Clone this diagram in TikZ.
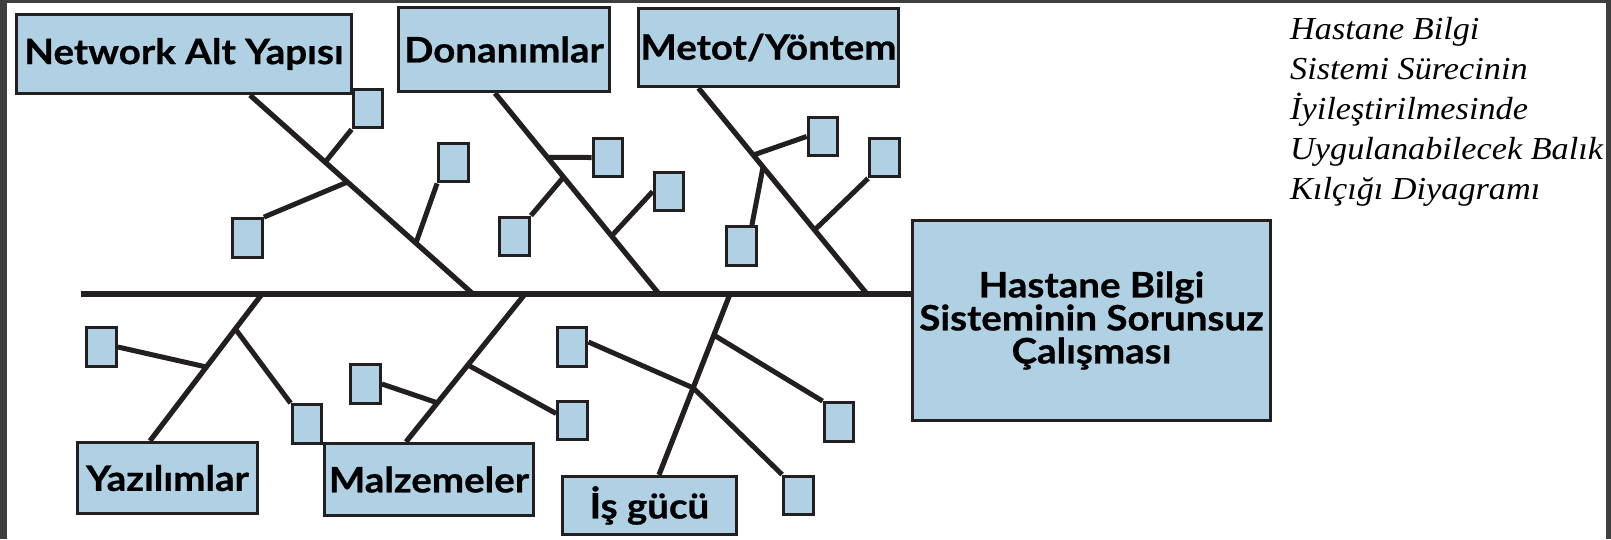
\documentclass[tikz,border=0pt]{standalone}
\usepackage{fontspec}
\usetikzlibrary{calc}

\newfontfamily\boxfont{Lato}[FakeStretch=1.1, FakeBold=0.7]
\newfontfamily\notefont{Liberation Serif}[FakeStretch=1.07]

\definecolor{boxblue}{RGB}{176,209,227}
\definecolor{inkline}{RGB}{35,31,32}
\definecolor{pageframe}{RGB}{62,62,62}

\tikzset{
  catbox/.style={draw=inkline, fill=boxblue, line width=3.3pt, inner sep=0pt,
    font=\boxfont\bfseries\fontsize{35}{35}\selectfont},
  smallbox/.style={draw=inkline, fill=boxblue, line width=3.3pt,
    minimum width=29.5pt, minimum height=38.5pt, inner sep=0pt},
  spine/.style={draw=inkline, line width=6pt},
  bone/.style={draw=inkline, line width=5.2pt},
  twig/.style={draw=inkline, line width=5pt},
  caption/.style={font=\notefont\itshape\fontsize{32}{32}\selectfont, inner sep=0pt}
}

\begin{document}
\begin{tikzpicture}[x=1pt,y=-1pt]

% Cerceve
\fill[pageframe] (0,0) rectangle (1611,539);
\fill[white] (7,3) rectangle (1606,539);
\useasboundingbox (0,0) rectangle (1611,539);

% Ana kutular
\node[catbox, minimum width=335pt, minimum height=79pt] (net) at (184,54) {Network Alt Yapısı};
\node[catbox, minimum width=211pt, minimum height=84pt] (don) at (504,49.5) {Donanımlar};
\node[catbox, minimum width=260pt, minimum height=78pt] (met) at (768.5,47.5) {Metot/Yöntem};
\node[catbox, minimum width=180pt, minimum height=71pt] (yaz) at (167.5,478) {Yazılımlar};
\node[catbox, minimum width=209pt, minimum height=72pt] (malz) at (429,479.5) {Malzemeler};
\node[catbox, minimum width=174pt, minimum height=58pt] (isg) at (649.5,505.5) {İş gücü};
\node[catbox, minimum width=358pt, minimum height=200pt, align=center,
  font=\boxfont\bfseries\fontsize{35}{33}\selectfont] (main) at (1091.5,320.5)
  {Hastane Bilgi\\Sisteminin Sorunsuz\\Çalışması};

% Kucuk kutular
\foreach \n/\x/\y in {a/368/108.5, b/247.5/238, c/453.5/162.5, d/514.5/236.5,
    e/608/157.5, f/669/191.5, g/823/136.5, h/741.5/246, i/884.5/157.5,
    j/101.5/347, k/307/424, l/365.5/384, m/572.5/420.5, n/572/347,
    o/798.5/495.5, p/839/422}
  \node[smallbox] (\n) at (\x,\y) {};

% Omurga
\coordinate (tail) at (81,294);
\foreach \n/\x in {s1/473, s2/659, s3/867, s4/262, s5/525, s6/730}
  \coordinate (\n) at (\x,294);
\draw[spine] (tail) -- (tail -| main.west);

% Kilciklar
\coordinate (netfoot) at ([xshift=66pt]net.south);
\coordinate (donfoot) at ([xshift=-9pt]don.south);
\coordinate (metfoot) at ([xshift=-70pt]met.south);
\coordinate (yazfoot) at ([xshift=-17.5pt]yaz.north);
\coordinate (malzfoot) at ([xshift=-23pt]malz.north);
\coordinate (isgfoot) at ([xshift=9.5pt]isg.north);

\draw[bone] (netfoot) -- (s1);
\draw[bone] (donfoot) -- (s2);
\draw[bone] (metfoot) -- (s3);
\draw[bone] (s4) -- (yazfoot);
\draw[bone] (s5) -- (malzfoot);
\draw[bone] (s6) -- (isgfoot);

% Dallar
\draw[twig] ($(netfoot)!0.337!(s1)$) -- (a.south west);
\draw[twig] ($(netfoot)!0.437!(s1)$) -- (b.north east);
\draw[twig] ($(netfoot)!0.744!(s1)$) -- (c.south west);
\draw[twig] ($(donfoot)!0.32!(s2)$) -- (e.west);
\draw[twig] ($(donfoot)!0.418!(s2)$) -- (d.north east);
\draw[twig] ($(donfoot)!0.711!(s2)$) -- (f.west);
\draw[twig] ($(metfoot)!0.325!(s3)$) -- (g.west);
\draw[twig] ($(metfoot)!0.383!(s3)$) -- ([xshift=-6pt]h.north east);
\draw[twig] ($(metfoot)!0.689!(s3)$) -- (i.south west);
\draw[twig] ($(s4)!0.497!(yazfoot)$) -- (j.east);
\draw[twig] ($(s4)!0.238!(yazfoot)$) -- (k.north west);
\draw[twig] ($(s5)!0.736!(malzfoot)$) -- (l.east);
\draw[twig] ($(s5)!0.48!(malzfoot)$) -- ([yshift=7pt]m.west);
\draw[twig] ($(s6)!0.227!(isgfoot)$) -- (p.north west);
\draw[twig] ($(s6)!0.519!(isgfoot)$) coordinate (cross) -- ([yshift=5pt]n.east);
\draw[twig] (cross) -- (o.north west);

% Aciklama
\foreach \line [count=\k from 0] in {Hastane Bilgi, Sistemi Sürecinin,
    İyileştirilmesinde, Uygulanabilecek Balık, Kılçığı Diyagramı}
  \node[caption, anchor=base west] (cap\k) at (1290,39+40*\k) {\line};

\end{tikzpicture}
\end{document}
